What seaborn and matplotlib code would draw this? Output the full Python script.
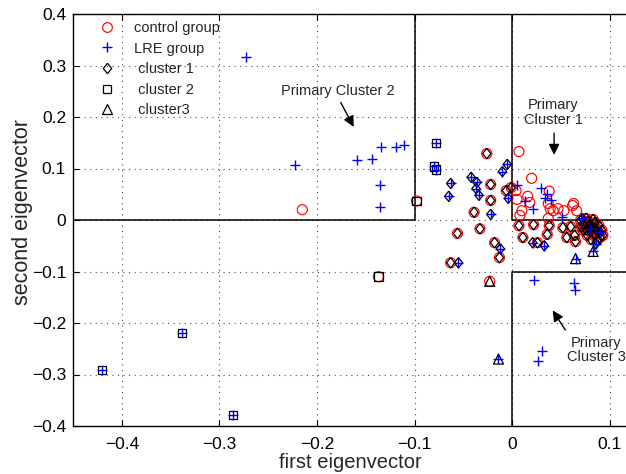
import matplotlib
matplotlib.use("Agg")
import matplotlib.pyplot as plt
import pandas as pd
import seaborn as sns
from matplotlib.lines import Line2D

# === Data (first / second eigenvector) ===
# cluster code: 0 = none, 1 = cluster 1, 2 = cluster 2, 3 = cluster3
control_x = [-0.215, 0.007, 0.020, 0.038, 0.016, 0.005, 0.037, 0.063, 0.018, 0.010,
             0.008, 0.039, 0.042, 0.047, 0.053, 0.062, 0.066, 0.037, 0.004,
             -0.026, -0.022, -0.022, -0.039, -0.056, -0.033, -0.018, -0.013, -0.063, -0.006,
             -0.001, 0.007, 0.022, 0.038, 0.011, 0.026, 0.036, 0.052, 0.060, 0.056,
             0.064, 0.065, 0.070, 0.074, 0.076, 0.078, 0.080, 0.082, 0.084, 0.086,
             0.088, 0.090, 0.077, 0.081, 0.085, 0.089, 0.092, 0.076, 0.083, 0.087,
             0.073, 0.079, 0.093, 0.071,
             -0.098, -0.137,
             -0.023]
control_y = [0.020, 0.133, 0.081, 0.056, 0.046, 0.040, 0.032, 0.032, 0.034, 0.018,
             0.009, 0.022, 0.018, 0.022, 0.018, 0.028, 0.018, 0.003, 0.057,
             0.129, 0.069, 0.038, 0.015, -0.026, -0.017, -0.044, -0.073, -0.083, 0.057,
             0.063, -0.011, -0.009, -0.011, -0.034, -0.044, -0.028, -0.015, -0.013, -0.034,
             -0.030, -0.042, -0.001, -0.009, -0.019, -0.003, -0.022, -0.013, -0.028, -0.017,
             -0.024, -0.034, -0.030, -0.038, -0.005, -0.011, -0.020, 0.003, 0.001, -0.040,
             -0.020, -0.013, -0.030, -0.013,
             0.037, -0.110,
             -0.119]
control_cluster = [0] * 19 + [1] * 44 + [2] * 2 + [3] * 1

lre_x = [-0.273, -0.222, -0.159, -0.144, -0.134, -0.119, -0.111, -0.135, -0.135, 0.030,
         0.036, 0.013, 0.034, 0.040, 0.021, 0.051, 0.005, 0.022, 0.063, 0.064,
         0.031, 0.027,
         -0.063, -0.065, -0.042, -0.036, -0.037, -0.034, -0.005, -0.010, -0.004, -0.022,
         -0.012, -0.055, 0.021, 0.033, 0.072, 0.080, 0.090, 0.086,
         -0.4205, -0.3385, -0.286, -0.078, -0.080, -0.078,
         -0.014, 0.065, 0.083]
lre_y = [0.316, 0.107, 0.116, 0.118, 0.141, 0.141, 0.145, 0.068, 0.026, 0.063,
         0.050, 0.036, 0.042, 0.038, 0.022, 0.005, 0.068, -0.116, -0.122, -0.135,
         -0.254, -0.274,
         0.071, 0.046, 0.083, 0.073, 0.061, 0.048, 0.108, 0.094, 0.042, 0.011,
         -0.056, -0.083, -0.044, -0.050, 0.003, -0.017, -0.024, -0.046,
         -0.291, -0.219, -0.379, 0.149, 0.104, 0.098,
         -0.270, -0.075, -0.061]
lre_cluster = [0] * 22 + [1] * 18 + [2] * 6 + [3] * 3

x_ticks = [-0.4, -0.3, -0.2, -0.1, 0, 0.1]
x_tick_labels = ["\u22120.4", "\u22120.3", "\u22120.2", "\u22120.1", "0", "0.1"]
y_ticks = [-0.4, -0.3, -0.2, -0.1, 0, 0.1, 0.2, 0.3, 0.4]
y_tick_labels = ["\u22120.4", "\u22120.3", "\u22120.2", "\u22120.1", "0", "0.1", "0.2", "0.3", "0.4"]

legend_labels = ["control group", "LRE group", " cluster 1", " cluster 2", " cluster3"]

# === Style ===
sns.set_style("ticks")
plt.rcParams["font.family"] = ["Liberation Sans", "DejaVu Sans"]

DIAMOND = [(0, 1), (0.8, 0), (0, -1), (-0.8, 0), (0, 1)]
cluster_markers = {1: DIAMOND, 2: "s", 3: "^"}
cluster_sizes = {1: 55, 2: 36, 3: 52}

control = pd.DataFrame({"x": control_x, "y": control_y, "cluster": control_cluster})
lre = pd.DataFrame({"x": lre_x, "y": lre_y, "cluster": lre_cluster})
clustered = pd.concat([control, lre])

fig = plt.figure(figsize=(6.26, 4.74), dpi=100)
ax = fig.add_axes([73 / 626, 48 / 474, 566 / 626, 412 / 474])

sns.scatterplot(data=control, x="x", y="y", marker="o", s=52, facecolor="none",
                edgecolor="red", linewidth=0.85, ax=ax, zorder=3)
for c, m in cluster_markers.items():
    sub = clustered[clustered["cluster"] == c]
    sns.scatterplot(data=sub, x="x", y="y", marker=m, s=cluster_sizes[c], facecolor="none",
                    edgecolor="black", linewidth=0.9, ax=ax, zorder=4)
sns.scatterplot(data=lre, x="x", y="y", marker="+", s=50, color="blue",
                linewidth=1.0, ax=ax, zorder=5)

# primary cluster regions
box_kw = dict(color="black", lw=1.1, zorder=2, clip_on=True)
ax.plot([-0.448, -0.1, -0.1], [0, 0, 0.4], **box_kw)
ax.plot([0, 0, 0.2], [0.4, 0, 0], **box_kw)
ax.plot([0, 0, 0.2], [-0.4, -0.1, -0.1], **box_kw)

ax.set_xlim(-0.45, 0.13)
ax.set_ylim(-0.4, 0.4)
ax.set_xticks(x_ticks)
ax.set_xticklabels(x_tick_labels)
ax.set_yticks(y_ticks)
ax.set_yticklabels(y_tick_labels)
ax.tick_params(direction="in", length=4, width=0.8, labelsize=12.5, colors="black",
               top=True, right=True, pad=5)
ax.tick_params(axis="x", pad=8)
ax.grid(True, color="0.3", linestyle=(0, (1, 4)), linewidth=0.8)
for sp in ax.spines.values():
    sp.set_color("black")
    sp.set_linewidth(1.0)

ax.set_xlabel("first eigenvector", fontsize=14.5)
ax.set_ylabel("second eigenvector", fontsize=15.5)
ax.xaxis.set_label_coords(0.49, -0.066)
ax.yaxis.set_label_coords(-0.07, 0.52)

# annotations
arrow_kw = dict(arrowstyle="-|>", color="black", lw=1.0, mutation_scale=16)
ax.text(-0.1785, 0.251, "Primary Cluster 2", ha="center", va="center", fontsize=10.5)
ax.annotate("", xy=(-0.161, 0.176), xytext=(-0.177, 0.233), arrowprops=arrow_kw)
ax.text(0.042, 0.209, "Primary\nCluster 1", ha="center", va="center", fontsize=10.5,
        linespacing=1.05)
ax.annotate("", xy=(0.043, 0.121), xytext=(0.043, 0.174), arrowprops=arrow_kw)
ax.text(0.086, -0.252, "Primary\nCluster 3", ha="center", va="center", fontsize=10.5,
        linespacing=1.05)
ax.annotate("", xy=(0.040, -0.171), xytext=(0.056, -0.218), arrowprops=arrow_kw)

# legend
handles = [
    Line2D([], [], ls="none", marker="o", ms=7, mfc="none", mec="red", mew=0.85),
    Line2D([], [], ls="none", marker="+", ms=7, color="blue", mew=1.0),
    Line2D([], [], ls="none", marker=DIAMOND, ms=7.5, mfc="none", mec="black", mew=0.9),
    Line2D([], [], ls="none", marker="s", ms=6, mfc="none", mec="black", mew=0.9),
    Line2D([], [], ls="none", marker="^", ms=7.2, mfc="none", mec="black", mew=0.9),
]
ax.legend(handles, legend_labels, loc="upper left", bbox_to_anchor=(0.034, 0.983),
          frameon=False, fontsize=10.5, handlelength=2.0, handletextpad=0.85,
          labelspacing=0.45, borderpad=0, borderaxespad=0)

fig.savefig("out.png", dpi=100)
